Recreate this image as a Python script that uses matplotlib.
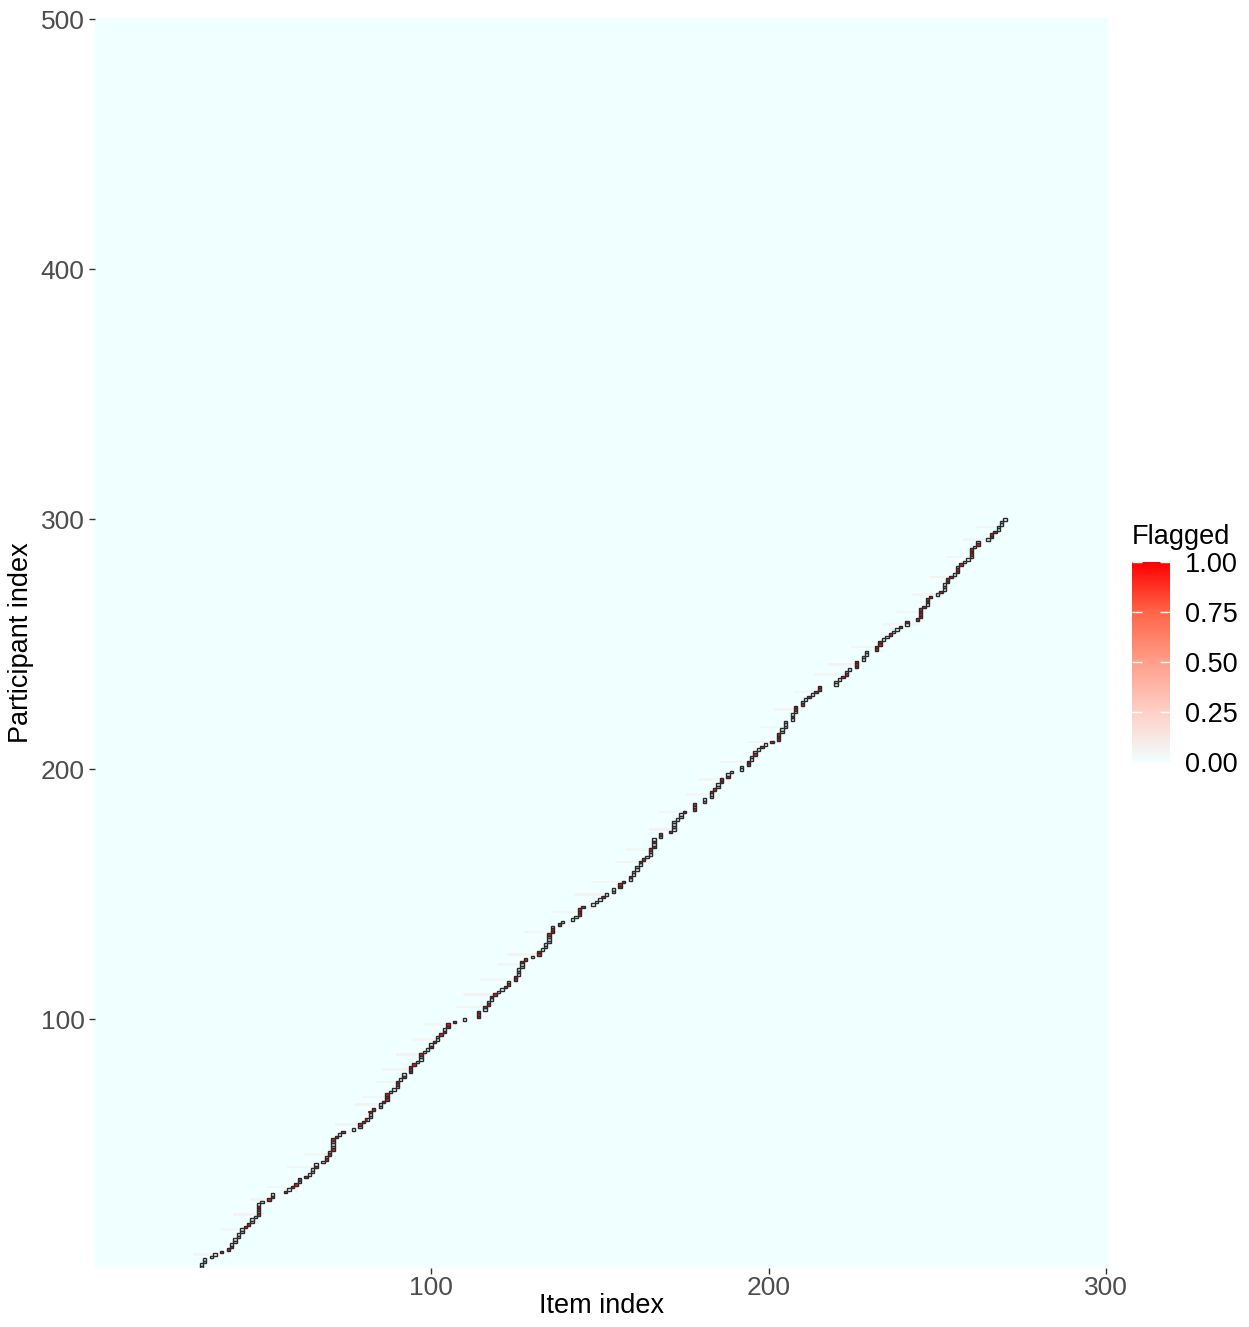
import numpy as np
import matplotlib
matplotlib.use("Agg")
import matplotlib.pyplot as plt
import matplotlib.patches as patches
from matplotlib.colors import LinearSegmentedColormap

plt.rcParams["font.family"] = ["Liberation Sans", "DejaVu Sans"]

# ===============================
# Datos
# ===============================
n_items = 300
n_participants = 500

# item marcado (verdadero) para cada participante 1..300
true_item = [
    32, 32, 33, 33, 35, 36, 38, 40, 41, 41,
    42, 42, 43, 43, 44, 44, 45, 46, 47, 47,
    48, 49, 49, 49, 49, 49, 50, 52, 53, 53,
    57, 58, 59, 60, 61, 61, 63, 64, 65, 65,
    66, 66, 68, 69, 69, 70, 70, 71, 71, 71,
    71, 71, 72, 73,
    74, 77, 79, 79, 80, 81,
    82, 82, 82, 83, 85, 85, 86, 87, 87, 87,
    88, 89, 90, 90, 90, 91, 92, 92, 94, 94,
    94, 95, 96, 97, 97, 97, 98, 99, 100, 100,
    101, 102, 102, 103, 104, 104, 105, 105, 107, 110,
    114, 114, 114, 116, 116, 117, 117, 118, 118, 119,
    120, 121, 122, 123, 123, 125, 125, 126, 126, 126,
    127, 127, 127, 128, 130, 132, 132, 133, 134, 134,
    135, 135, 135, 135, 136, 136, 136, 138, 139, 142,
    143, 144, 144, 144, 145, 148, 149, 150, 151, 152,
    154, 154, 156, 156, 157, 159, 159, 160, 160, 161,
    161, 162, 162, 163, 164, 165, 165, 165, 166, 166,
    166, 166, 168, 168, 171, 172, 172, 172, 172, 173,
    174, 174, 175, 178, 178, 178, 181, 181, 183, 183,
    183, 184, 185, 185, 186, 186, 188, 188, 189, 192,
    192, 194, 194,
    195, 195, 196, 196, 197, 198, 199,
    201, 203, 203, 203, 204, 204, 205, 205, 205, 207,
    207, 207, 208, 208, 208, 210, 210, 211, 212, 213,
    214, 215, 215, 220, 220, 221, 222, 223, 223, 224,
    226, 226, 226, 228, 228, 229, 229, 232, 232, 233,
    233, 234, 235,
    236, 237, 238, 239, 241, 241, 244,
    245, 245, 245, 245, 246, 247, 247, 247, 248, 250,
    251, 252, 252, 252, 253, 253, 254, 255, 256, 256,
    256, 257, 258, 259, 260, 260, 260, 260, 261, 262,
    262, 265, 266, 266, 267, 268, 268, 269, 269, 270,
]

# participantes cuya celda verdadera aparece en rojo
flagged_participants = [
    7, 8, 9, 17, 18, 22, 24, 25, 28, 29, 31, 33, 34, 36, 37, 41, 44, 46, 48, 52,
    53, 55, 58, 59, 60, 63, 64, 67, 68, 69, 70, 74, 75, 77, 79, 80, 81, 82, 86,
    89, 91, 94, 95, 97, 98, 99, 101, 102, 103, 105, 106, 109, 110, 113, 114, 116,
    117, 123, 124, 126, 127, 134, 135, 136, 138, 142, 143, 144, 145, 149, 153,
    154, 155, 157, 163, 164, 168, 169, 171, 174, 175, 183, 184, 186, 191, 192,
    195, 196, 197, 202, 203, 206, 209, 211, 212, 213, 214, 221, 224, 225, 226,
    229, 231, 232, 233, 237, 238, 241, 242, 243, 248, 249, 250, 251, 254, 257,
    259, 260, 261, 262, 263, 264, 265, 267, 268, 269, 271, 275, 276, 277, 279,
    280, 282, 286, 287, 288, 290, 293, 294, 295,
]
flag_level = 0.95

# franjas tenues cerca de la diagonal: participante, primer item, ultimo item, nivel
faint_participant = [6, 16, 22, 28, 33, 41, 46, 58, 66, 69, 75, 80, 86, 92,
                     98, 105, 110, 116, 122, 126, 135, 143, 150, 155, 163,
                     168, 176, 183, 190, 196, 203, 211, 217, 224, 231, 238,
                     242, 249, 258, 263, 270, 277, 285, 292, 297]
faint_start = [30, 38, 42, 47, 52, 58, 63, 72, 78, 80, 84, 86, 90, 95,
               98, 108, 110, 115, 120, 123, 128, 136, 143, 148, 155,
               158, 165, 168, 176, 180, 186, 194, 198, 202, 208, 214,
               218, 225, 234, 238, 243, 248, 253, 258, 262]
faint_end = [37, 44, 50, 53, 60, 66, 70, 79, 85, 88, 91, 94, 98, 102,
             106, 116, 119, 124, 128, 131, 137, 146, 152, 157, 164,
             167, 173, 177, 184, 188, 194, 203, 207, 210, 216, 224,
             227, 233, 244, 247, 251, 256, 261, 266, 270]
faint_level = [0.05, 0.04, 0.06, 0.05, 0.04, 0.05, 0.04, 0.05, 0.06, 0.04,
               0.04, 0.05, 0.06, 0.04, 0.04, 0.05, 0.06, 0.04, 0.04, 0.06,
               0.05, 0.04, 0.06, 0.04, 0.05, 0.04, 0.06, 0.04, 0.04, 0.05,
               0.04, 0.06, 0.04, 0.05, 0.04, 0.04, 0.06, 0.05, 0.04, 0.04,
               0.05, 0.06, 0.04, 0.04, 0.05]

# ===============================
# Matriz
# ===============================
grid = np.zeros((n_participants, n_items))
for p, a, b, v in zip(faint_participant, faint_start, faint_end, faint_level):
    grid[p - 1, a - 1:b] = v
for p in flagged_participants:
    grid[p - 1, true_item[p - 1] - 1] = flag_level

cmap = LinearSegmentedColormap.from_list(
    "azure_red",
    [(0.0, "#F0FFFF"), (0.25, "#FFCFC6"), (0.5, "#FF9E8A"),
     (0.75, "#FF6548"), (1.0, "#FF0000")],
)

fig = plt.figure(figsize=(12.49, 13.27), dpi=100)
ax = fig.add_axes([95 / 1249, 59 / 1327, 1013 / 1249, 1250 / 1327])

im = ax.imshow(
    grid,
    origin="lower",
    extent=[0.5, n_items + 0.5, 0.5, n_participants + 0.5],
    aspect="auto",
    cmap=cmap,
    vmin=0,
    vmax=1,
    interpolation="nearest",
)

# contorno de las celdas verdaderas
for i, item in enumerate(true_item):
    rect = patches.Rectangle(
        (item - 0.5, i + 0.5), 1, 1,
        linewidth=1.0, edgecolor="#2B2B2B", facecolor="none",
    )
    ax.add_patch(rect)

ax.set_xlim(0.5, 300.5)
ax.set_ylim(0.5, 500.5)
ax.set_xticks([100, 200, 300])
ax.set_yticks([100, 200, 300, 400, 500])
for s in ax.spines.values():
    s.set_visible(False)
ax.tick_params(colors="#333333", labelcolor="#4D4D4D", labelsize=19, length=4, width=1)
ax.tick_params(axis="x", pad=2)
ax.set_ylabel("Participant index", fontsize=19.5, labelpad=5)
fig.text((95 + 1108) / 2 / 1249, (1327 - 1306) / 1327, "Item index",
         fontsize=19.5, ha="center", va="center")

# ===============================
# Leyenda
# ===============================
cax = fig.add_axes([1132 / 1249, (1327 - 762) / 1327, 38 / 1249, 200 / 1327])
cb = fig.colorbar(im, cax=cax, ticks=[0, 0.25, 0.5, 0.75, 1.0])
cb.outline.set_visible(False)
cb.ax.set_yticklabels(["0.00", "0.25", "0.50", "0.75", "1.00"])
cb.ax.tick_params(direction="in", colors="white", labelcolor="black", left=True,
                  right=True, length=7, width=1, labelsize=19.5, pad=10.5)
fig.text(1132 / 1249, (1327 - 537) / 1327, "Flagged", fontsize=19.5, va="center", ha="left")

fig.savefig("out.png", dpi=100)
